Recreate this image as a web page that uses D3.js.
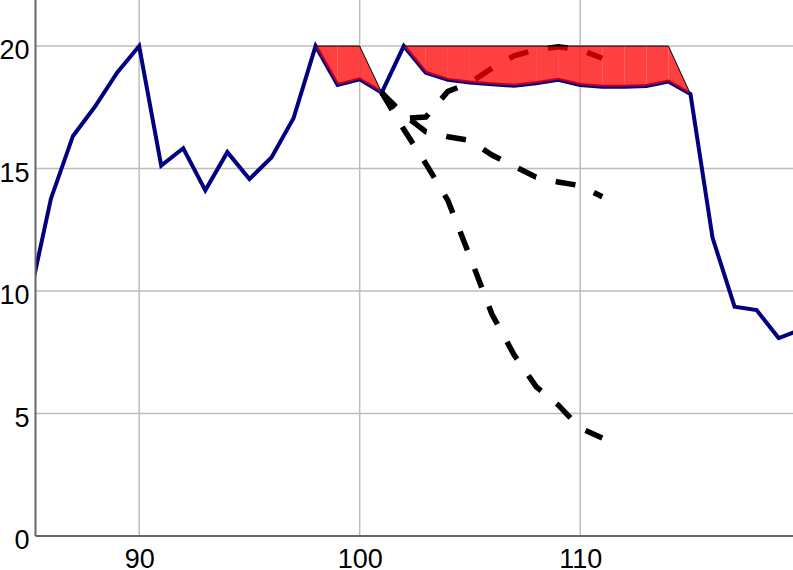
<!DOCTYPE html>
<html lang="en">
  <head>
    <meta charset="utf-8">
    <title></title>
    <script src="https://cdn.jsdelivr.net/npm/d3@7"></script>
    <style>
      body { margin: 0; background: #fff; }
      .grid line { stroke: #bdbdbd; stroke-width: 1.5; }
      .axis path, .axis line { stroke: #666; stroke-width: 2; }
      .axis text {
        font-family: "Liberation Sans", Arial, sans-serif;
        font-size: 27px;
        fill: #000;
      }
    </style>
  </head>
  <body>
    <script>
      // observed series, one value per integer x
      var years = d3.range(85, 121);
      var observed = [9.6, 13.77, 16.33, 17.53, 18.91, 20, 15.12, 15.83, 14.11, 15.67,
                      14.57, 15.45, 17.05, 20, 18.41, 18.64, 18.10, 20, 18.91, 18.62,
                      18.51, 18.44, 18.38, 18.48, 18.62, 18.41, 18.34, 18.34, 18.37, 18.55,
                      18.04, 12.18, 9.36, 9.22, 8.08, 8.42];

      // shaded band: capped top over the observed line
      var bandX = d3.range(98, 116);
      var bandTop = [20, 20, 20, 18.10, 20, 20, 20, 20, 20, 20, 20, 20, 20, 20, 20, 20, 20, 18.04];

      // dashed projections starting at x = 101
      var projX = d3.range(101, 112);
      var projHigh = [18.10, 17.05, 17.1, 18.15, 18.5, 19.1, 19.6, 19.85, 19.97, 19.85, 19.5];
      var projMid = [18.10, 17.2, 16.5, 16.3, 16.15, 15.55, 15.1, 14.65, 14.45, 14.3, 13.85];
      var projLow = [18.10, 16.6, 15.2, 13.7, 11.4, 9.05, 7.4, 6.1, 5.35, 4.4, 4.0];

      var xTicks = [90, 100, 110];
      var yTicks = [0, 5, 10, 15, 20];

      var w = 793, h = 570;
      var left = 35.5, bottom = 536;

      var xScale = d3.scaleLinear().domain([85.3, 119.65]).range([left, w]);
      var yScale = d3.scaleLinear().domain([0, 21.88]).range([bottom, 0]);

      var svg = d3.select("body").append("svg")
                  .attr("width", w)
                  .attr("height", h);

      svg.append("clipPath").attr("id", "plot")
         .append("rect")
         .attr("x", left).attr("y", 0)
         .attr("width", w - left).attr("height", bottom);

      // grid
      var grid = svg.append("g").attr("class", "grid");
      grid.selectAll(".gx").data(xTicks).enter().append("line")
          .attr("x1", function(d) { return xScale(d); })
          .attr("x2", function(d) { return xScale(d); })
          .attr("y1", 0).attr("y2", bottom);
      grid.selectAll(".gy").data(yTicks).enter().append("line")
          .attr("x1", left).attr("x2", w)
          .attr("y1", function(d) { return yScale(d); })
          .attr("y2", function(d) { return yScale(d); });

      var plot = svg.append("g").attr("clip-path", "url(#plot)");

      var line = d3.line()
                   .x(function(d) { return xScale(d[0]); })
                   .y(function(d) { return yScale(d[1]); });

      plot.append("path")
          .datum(d3.zip(years, observed))
          .attr("fill", "none")
          .attr("stroke", "#000080")
          .attr("stroke-width", 4)
          .attr("stroke-linejoin", "miter")
          .attr("d", line);

      [projLow, projMid, projHigh].forEach(function(p) {
        plot.append("path")
            .datum(d3.zip(projX, p))
            .attr("fill", "none")
            .attr("stroke", "#000")
            .attr("stroke-width", 5.5)
            .attr("stroke-dasharray", "20,20")
            .attr("d", line);
      });

      // band drawn one interval at a time (leaves the faint seams)
      var area = d3.area()
                   .x(function(d) { return xScale(d[0]); })
                   .y0(function(d) { return yScale(d[2]); })
                   .y1(function(d) { return yScale(d[1]); });
      var bandLow = bandX.map(function(x) { return observed[years.indexOf(x)]; });
      var band = d3.zip(bandX, bandTop, bandLow);
      for (var i = 0; i < band.length - 1; i++) {
        plot.append("path")
            .datum([band[i], band[i + 1]])
            .attr("fill", "#ff0000")
            .attr("fill-opacity", 0.75)
            .attr("d", area);
      }

      // thin outline along the band top
      [[98, 101], [102, 115]].forEach(function(r) {
        var seg = band.filter(function(d) { return d[0] >= r[0] && d[0] <= r[1]; });
        plot.append("path")
            .datum(seg)
            .attr("fill", "none")
            .attr("stroke", "#000")
            .attr("stroke-width", 1)
            .attr("d", line);
      });

      var xAxis = d3.axisBottom(xScale).tickValues(xTicks).tickSize(0).tickPadding(13);
      var yAxis = d3.axisLeft(yScale).tickValues(yTicks).tickSize(0).tickPadding(6);

      svg.append("g")
         .attr("class", "x axis")
         .attr("transform", "translate(0," + bottom + ")")
         .call(xAxis)
         .call(function(g) { g.select(".domain").attr("d", "M" + left + ",0H" + w); });

      svg.append("g")
         .attr("class", "y axis")
         .attr("transform", "translate(" + left + ",0)")
         .call(yAxis)
         .call(function(g) {
           g.select(".domain").attr("d", "M0,0V" + bottom);
           g.selectAll("text").attr("dy", "0.47em");
         });
    </script>
  </body>
</html>
